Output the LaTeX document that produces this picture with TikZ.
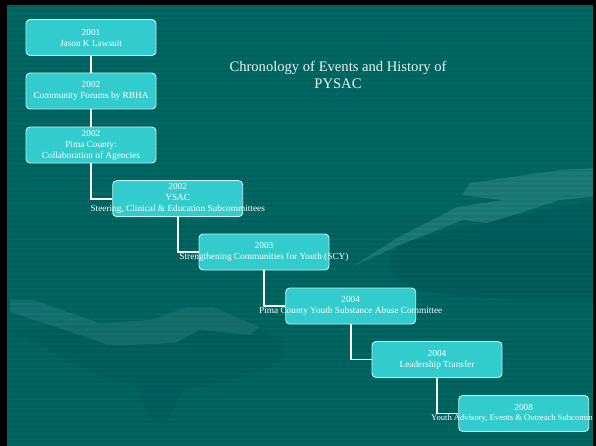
\documentclass[tikz,border=0pt]{standalone}
\usepackage{fontspec}
\setmainfont{Liberation Serif}
\definecolor{bgteal}{RGB}{0,104,100}
\definecolor{stripe}{RGB}{0,94,91}
\definecolor{boxfill}{RGB}{51,204,204}
\definecolor{boxline}{RGB}{200,240,240}
\definecolor{handc}{RGB}{110,180,175}
\definecolor{handdark}{RGB}{0,80,78}
\tikzset{
  x=1pt, y=-1pt,
  evbox/.style={draw=boxline, line width=0.9pt, fill=boxfill, rounded corners=4pt,
    minimum width=130pt, minimum height=36pt, inner sep=0pt},
  evtext/.style={text=white, font=\fontsize{9.3}{11}\selectfont, align=center, inner sep=0pt},
  conn/.style={draw=white, line width=1.8pt},
  titletext/.style={text=white!92!teal, font=\fontsize{14.6}{17}\selectfont, align=center}
}
\begin{document}
\begin{tikzpicture}
\useasboundingbox (0,0) rectangle (596,446);
\fill[black] (0,0) rectangle (596,446);
\begin{scope}
\clip (7,5) rectangle (593,446);
\fill[bgteal] (7,5) rectangle (593,446);
\foreach \k in {0,...,88} {
  \fill[stripe] (7,{5+5*\k}) rectangle (593,{7.5+5*\k});
}
% faint hands in the background (right hand)
\fill[handdark, opacity=0.35] (400,245) .. controls (440,230) and (520,215) .. (596,200)
  -- (596,300) .. controls (540,300) and (470,300) .. (420,290)
  .. controls (390,280) and (380,262) .. (400,245) -- cycle;
\fill[handc, opacity=0.25] (596,168) -- (560,170) -- (470,183) -- (462,195) -- (503,200)
  -- (457,207) -- (397,238) -- (353,266) -- (400,245) -- (463,220) -- (487,223)
  -- (520,213) -- (560,200) -- (596,196) -- cycle;
% lower-left hand
\fill[handdark, opacity=0.25] (10,330) -- (100,377) -- (133,383) -- (150,420) -- (167,423)
  -- (183,390) -- (217,383) -- (253,373) -- (283,357) -- (283,343) -- (260,327)
  -- (213,307) -- (187,307) -- (150,320) -- (100,323) -- cycle;
\fill[handc, opacity=0.18] (33,300) -- (100,323) -- (150,320) -- (187,307) -- (213,307)
  -- (260,327) -- (250,335) -- (200,330) -- (175,343) -- (130,345) -- (108,345)
  -- (80,335) -- (10,312) -- (10,300) -- cycle;
% title
\node[titletext] (title) at (338,75) {Chronology of Events and History of\\PYSAC};
% boxes
\node[evbox] (b1) at (91,37.5) {};
\node[evbox] (b2) at (91,91) {};
\node[evbox] (b3) at (91,145) {};
\node[evbox] (b4) at (177.7,198.7) {};
\node[evbox] (b5) at (264,252) {};
\node[evbox] (b6) at (350.7,306) {};
\node[evbox] (b7) at (437,359.5) {};
\node[evbox] (b8) at (523.7,413.5) {};
% connectors
\draw[conn] (b1.south) -- (b2.north);
\draw[conn] (b2.south) -- (b3.north);
\draw[conn] (b3.south) |- (b4.west);
\draw[conn] (b4.south) |- (b5.west);
\draw[conn] (b5.south) |- (b6.west);
\draw[conn] (b6.south) |- (b7.west);
\draw[conn] (b7.south) |- (b8.west);
% texts
\node[evtext] (t1) at (b1) {2001\\Jason K Lawsuit};
\node[evtext] (t2) at (b2) {2002\\Community Forums by RBHA};
\node[evtext] (t3) at (b3) {2002\\Pima County:\\Collaboration of Agencies};
\node[evtext] (t4) at (b4) {2002\\YSAC\\Steering, Clinical \& Education Subcommittees};
\node[evtext] (t5) at (b5) {2003\\Strengthening Communities for Youth (SCY)};
\node[evtext] (t6) at (b6) {2004\\Pima County Youth Substance Abuse Committee};
\node[evtext] (t7) at (b7) {2004\\Leadership Transfer};
\node[evtext] (t8y) at (523.7,407.5) {2008};
\node[evtext, anchor=west, font=\fontsize{8.6}{11}\selectfont] (t8) at (431,418.5) {Youth Advisory, Events \& Outreach Subcomm};
\end{scope}
\end{tikzpicture}
\end{document}
